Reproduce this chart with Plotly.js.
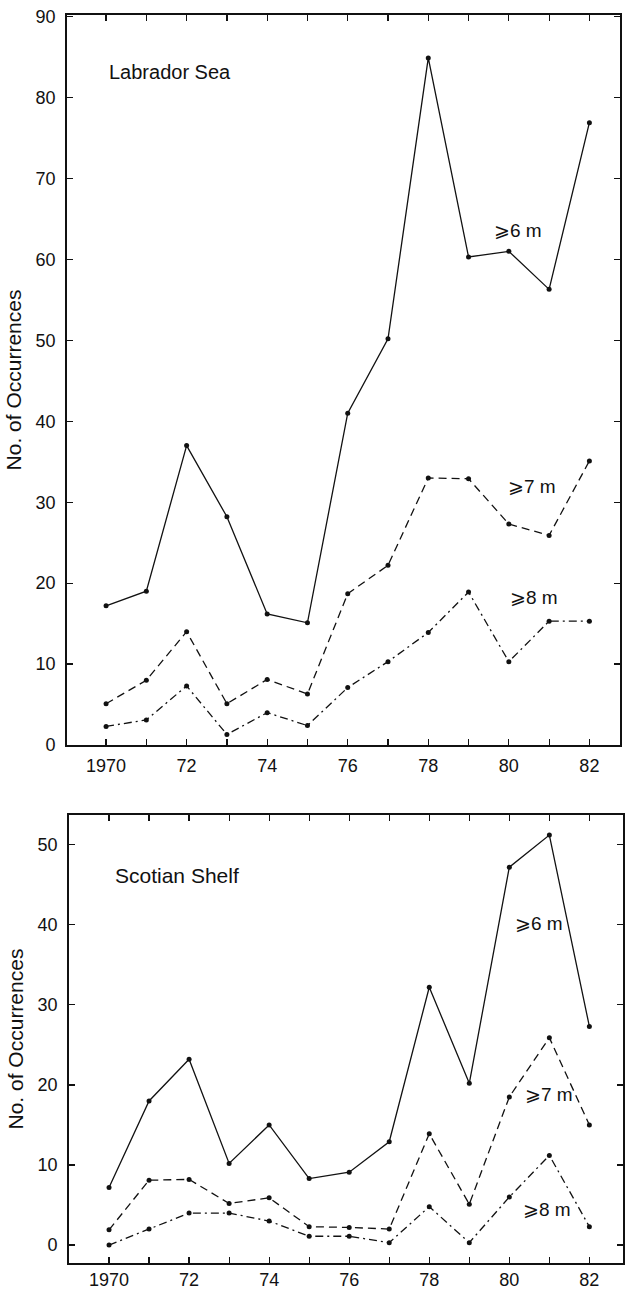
<!DOCTYPE html>
<html>
<head>
<meta charset="utf-8">
<script src="https://cdn.plot.ly/plotly-3.0.1.min.js"></script>
<style>html,body{margin:0;padding:0;background:#fff;}#chart{width:625px;height:1290px;}</style>
</head>
<body>
<div id="chart"></div>
<script>
// Data (years, values)
var years = [1970, 1971, 1972, 1973, 1974, 1975, 1976, 1977, 1978, 1979, 1980, 1981, 1982];
var tickText = ["1970", "", "72", "", "74", "", "76", "", "78", "", "80", "", "82"];

// Labrador Sea
var labGe6 = [17.2, 19, 37, 28.2, 16.2, 15.1, 41, 50.2, 84.9, 60.3, 61, 56.3, 76.9];
var labGe7 = [5.1, 8, 14, 5.1, 8.1, 6.3, 18.7, 22.2, 33, 32.9, 27.3, 25.9, 35.1];
var labGe8 = [2.3, 3.1, 7.3, 1.3, 4, 2.4, 7.1, 10.3, 13.9, 18.9, 10.3, 15.3, 15.3];

// Scotian Shelf
var scoGe6 = [7.2, 18, 23.2, 10.2, 15, 8.3, 9.1, 12.9, 32.2, 20.2, 47.2, 51.2, 27.3];
var scoGe7 = [1.9, 8.1, 8.2, 5.2, 5.9, 2.3, 2.2, 2.0, 13.9, 5.1, 18.5, 25.9, 15.0];
var scoGe8 = [0, 2.0, 4.0, 4.0, 3.0, 1.1, 1.1, 0.3, 4.8, 0.3, 6.0, 11.2, 2.3];

var seriesNames = ["\u2A7E6 m", "\u2A7E7 m", "\u2A7E8 m"];
var yTitle = "No. of Occurrences";

var FONT = '"Liberation Sans", Arial, Helvetica, sans-serif';
var dashes = ["solid", "8px,5px", "8px,4px,2px,4px"];

function tr(y, i, xa, ya) {
  return {
    x: years, y: y, xaxis: xa, yaxis: ya, type: "scatter", mode: "lines+markers",
    name: seriesNames[i], showlegend: false,
    line: {color: "#111", width: 1.3, dash: dashes[i]},
    marker: {color: "#111", size: 5}
  };
}

var data = [
  tr(labGe6, 0, "x", "y"), tr(labGe7, 1, "x", "y"), tr(labGe8, 2, "x", "y"),
  tr(scoGe6, 0, "x2", "y2"), tr(scoGe7, 1, "x2", "y2"), tr(scoGe8, 2, "x2", "y2")
];

function xax(domain, range, anchor, standoff) {
  return {
    domain: domain, range: range, anchor: anchor,
    tickmode: "array", tickvals: years, ticktext: tickText,
    ticks: "inside", ticklen: 6, tickwidth: 1.2, tickcolor: "#111",
    showline: true, linecolor: "#111", linewidth: 1.6, mirror: "ticks",
    showgrid: false, zeroline: false, ticklabelstandoff: standoff,
    tickfont: {family: FONT, size: 18, color: "#111"}
  };
}
function yax(domain, range, anchor, maxv) {
  var tv = [];
  for (var v = 0; v <= maxv; v += 10) tv.push(v);
  return {
    domain: domain, range: range, anchor: anchor,
    tickmode: "array", tickvals: tv,
    ticks: "inside", ticklen: 6, tickwidth: 1.2, tickcolor: "#111",
    showline: true, linecolor: "#111", linewidth: 1.8, mirror: "ticks",
    showgrid: false, zeroline: false, ticklabelstandoff: 6,
    tickfont: {family: FONT, size: 18, color: "#111"},
    title: {text: yTitle, font: {family: FONT, size: 21, color: "#111"}, standoff: 8}
  };
}

function ann(text, x, y, xr, yr, size) {
  return {text: text, x: x, y: y, xref: xr, yref: yr, xanchor: "left", yanchor: "middle",
          showarrow: false, font: {family: FONT, size: size, color: "#111"}};
}

var layout = {
  width: 625, height: 1290,
  margin: {l: 67, r: 2, t: 15, b: 27},
  paper_bgcolor: "#fff", plot_bgcolor: "#fff",
  xaxis: xax([0, 0.9946], [1969.03, 1982.76], "y", 4),
  yaxis: yax([0.41506, 1], [0, 90.2], "x", 90),
  xaxis2: xax([0.0036, 1], [1969, 1982.84], "y2", 0),
  yaxis2: yax([0, 0.3589], [-2.24, 53.7], "x2", 50),
  annotations: [
    ann("Labrador Sea", 1970.02, 83.1, "x", "y", 20),
    ann(seriesNames[0], 1979.58, 63.6, "x", "y", 19),
    ann(seriesNames[1], 1979.92, 31.9, "x", "y", 19),
    ann(seriesNames[2], 1979.97, 18.2, "x", "y", 19),
    ann("Scotian Shelf", 1970.1, 46.1, "x2", "y2", 21),
    ann(seriesNames[0], 1980.1, 40.1, "x2", "y2", 19),
    ann(seriesNames[1], 1980.35, 18.8, "x2", "y2", 19),
    ann(seriesNames[2], 1980.3, 4.5, "x2", "y2", 19)
  ]
};

Plotly.newPlot("chart", data, layout, {staticPlot: true, displayModeBar: false});
</script>
</body>
</html>
